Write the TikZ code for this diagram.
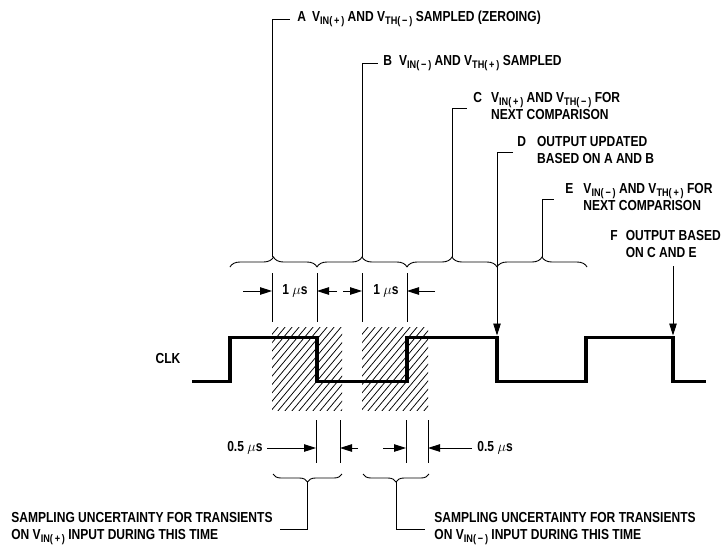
\documentclass[tikz,border=0pt]{standalone}
\usepackage{fontspec}
\setmainfont{Liberation Sans}[FakeStretch=0.83]
\usetikzlibrary{arrows.meta,decorations.pathreplacing,positioning}

% lowered small text for V_IN, V_TH
\newcommand{\sbs}[1]{\raisebox{-3pt}{\fontsize{11}{11}\selectfont #1}}
\newcommand{\mns}{\char"2212}

\begin{document}
\begin{tikzpicture}[x=1pt, y=-1pt, line width=0.9pt,
    lbl/.style={inner sep=0pt, anchor=west, align=left, font=\fontsize{14.5}{17}\selectfont\bfseries},
    dim/.style={-{Triangle[length=12pt,width=7.5pt]}},
    bracetop/.style={decorate, decoration={brace, amplitude=10pt}},
    bracebot/.style={decorate, decoration={brace, amplitude=8pt}},
    hatchline/.style={line width=0.75pt}]
    \useasboundingbox (0,0) rectangle (722,544);

    % Draw the hatched sampling windows
    \begin{scope}
        \clip (272,327) rectangle (342,410);
        \foreach \x in {200,207,...,350}
            \draw[hatchline] (\x,412) -- ++(72,-86);
    \end{scope}
    \begin{scope}
        \clip (362,327) rectangle (428,410);
        \foreach \x in {290,297,...,440}
            \draw[hatchline] (\x,412) -- ++(72,-86);
    \end{scope}

    % Draw the clock
    \draw[line width=3.8pt] (192,381.5) -- (230,381.5) -- (230,337.5) -- (317,337.5)
        -- (317,381.5) -- (407,381.5) -- (407,337.5) -- (497,337.5) -- (497,381.5)
        -- (586,381.5) -- (586,337.5) -- (673,337.5) -- (673,381.5) -- (706,381.5);
    \node[lbl, anchor=center] (clk) at (168,359) {CLK};
    \coordinate (clkD) at (497,335.5);
    \coordinate (clkF) at (673,335.5);

    % Braces above the clock
    \draw[bracetop] (230,267) -- (317,267);
    \draw[bracetop] (317,267) -- (407,267);
    \draw[bracetop] (407,267) -- (497,267);
    \draw[bracetop] (497,267) -- (587,267);
    \coordinate (tipA) at (272,257);
    \coordinate (tipB) at (362,257);
    \coordinate (tipC) at (452,257);
    \coordinate (tipE) at (542,257);

    % Labels and leaders
    \node[lbl] (labA) at (297,19) {A\hspace{6pt}V\sbs{IN(\,+\,)} AND V\sbs{TH(\,\mns\,)} SAMPLED (ZEROING)};
    \draw (tipA) |- ([xshift=-7pt]labA.west);

    \node[lbl] (labB) at (383,63) {B\hspace{7pt}V\sbs{IN(\,\mns\,)} AND V\sbs{TH(\,+\,)} SAMPLED};
    \draw (tipB) |- ([xshift=-5pt]labB.west);

    \node[lbl] (labC) at (473,108) {\begin{tabular}{@{}l@{\hspace{9pt}}l@{}}C & V\sbs{IN(\,+\,)} AND V\sbs{TH(\,\mns\,)} FOR\\ & NEXT COMPARISON\end{tabular}};
    \draw (tipC) |- ([xshift=-6pt]labC.west);

    \node[lbl] (labD) at (517,152) {\begin{tabular}{@{}l@{\hspace{11pt}}l@{}}D & OUTPUT UPDATED\\ & BASED ON A AND B\end{tabular}};
    \draw[dim] ([xshift=-4pt]labD.west) -| (clkD);

    \node[lbl] (labE) at (565,199) {\begin{tabular}{@{}l@{\hspace{10pt}}l@{}}E & V\sbs{IN(\,\mns\,)} AND V\sbs{TH(\,+\,)} FOR\\ & NEXT COMPARISON\end{tabular}};
    \draw (tipE) |- ([xshift=-11pt]labE.west);

    \node[lbl] (labF) at (610,246) {\begin{tabular}{@{}l@{\hspace{8pt}}l@{}}F & OUTPUT BASED\\ & ON C AND E\end{tabular}};
    \draw[dim] ([yshift=-3pt]labF.south -| clkF) -- (clkF);

    % 1 us dimensions
    \draw (272,273) -- (272,322);
    \draw (317,273) -- (317,322);
    \draw (362,273) -- (362,322);
    \draw (407,273) -- (407,322);
    \node[lbl, anchor=center] (us1) at (295,291) {1 $\mu$s};
    \node[lbl, anchor=center] (us2) at (386,291) {1 $\mu$s};
    \draw[dim] (243,291) -- (272,291);
    \draw[dim] (337,291) -- (317,291);
    \draw[dim] (343,291) -- (362,291);
    \draw[dim] (435,291) -- (407,291);

    % 0.5 us dimensions
    \draw (316,420) -- (316,463);
    \draw (340,420) -- (340,463);
    \draw (406,420) -- (406,463);
    \draw (428,420) -- (428,463);
    \node[lbl, anchor=east] (hs1) at (263,448) {0.5 $\mu$s};
    \node[lbl] (hs2) at (477,448) {0.5 $\mu$s};
    \draw[dim] ([xshift=4pt]hs1.east) -- (316,448);
    \draw[dim] (358,448) -- (340,448);
    \draw[dim] (383,448) -- (406,448);
    \draw[dim] ([xshift=-5pt]hs2.west) -- (428,448);

    % Braces below and uncertainty notes
    \draw[bracebot] (342,474) -- (273,474);
    \draw[bracebot] (429,474) -- (363,474);
    \coordinate (tipP) at (307.5,482);
    \coordinate (tipM) at (396,482);
    \node[lbl, anchor=east] (labP) at (273,529) {SAMPLING UNCERTAINTY FOR TRANSIENTS\\ON V\sbs{IN(\,+\,)} INPUT DURING THIS TIME};
    \draw (tipP) |- ([xshift=7pt]labP.east);
    \node[lbl] (labM) at (434,529) {SAMPLING UNCERTAINTY FOR TRANSIENTS\\ON V\sbs{IN(\,\mns\,)} INPUT DURING THIS TIME};
    \draw (tipM) |- ([xshift=-9pt]labM.west);
\end{tikzpicture}
\end{document}
